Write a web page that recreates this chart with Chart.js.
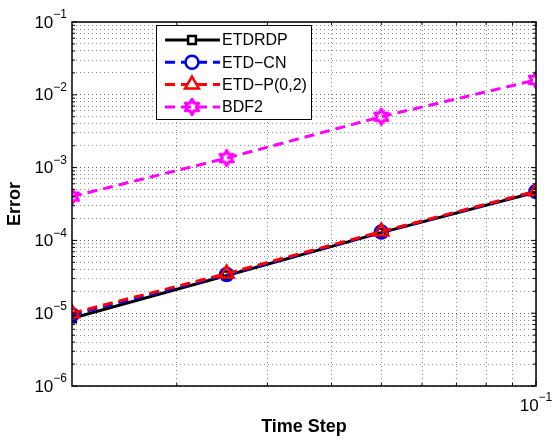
<!DOCTYPE html>
<html>
<head>
<meta charset="utf-8">
<script src="https://cdn.jsdelivr.net/npm/chart.js@4/dist/chart.umd.min.js"></script>
<style>
  html, body { margin: 0; padding: 0; background: #fff; }
  #wrap { width: 552px; height: 440px; }
</style>
</head>
<body>
<div id="wrap"><canvas id="chart" width="552" height="440"></canvas></div>
<script>
// data
const timeSteps = [0.0125, 0.025, 0.05, 0.1];
const etdrdpErr = [8.5e-6, 3.3e-5, 1.28e-4, 4.6e-4];
const etdcnErr = [9.5e-6, 3.4e-5, 1.3e-4, 4.7e-4];
const etdpErr = [1.0e-5, 3.5e-5, 1.32e-4, 4.75e-4];
const bdf2Err = [4.0e-4, 1.35e-3, 5.0e-3, 1.6e-2];
const seriesNames = ['ETDRDP', 'ETD\u2212CN', 'ETD\u2212P(0,2)', 'BDF2'];
const yExponents = [-6, -5, -4, -3, -2, -1];
const xExponents = [-1];

const FONT = '"Liberation Sans", Arial, Helvetica, sans-serif';

// hexagram marker (matlab 'h')
function hexagram(color, r, lw) {
    const c = document.createElement('canvas');
    const s = Math.ceil(2 * r + lw * 2 + 2);
    c.width = s; c.height = s;
    const g = c.getContext('2d');
    g.strokeStyle = color;
    g.lineWidth = lw;
    g.lineJoin = 'round';
    g.beginPath();
    for (let i = 0; i < 12; i++) {
        const a = -Math.PI / 2 + i * Math.PI / 6;
        const rr = i % 2 === 0 ? r : r / Math.sqrt(3);
        const px = s / 2 + rr * Math.cos(a), py = s / 2 + rr * Math.sin(a);
        if (i === 0) g.moveTo(px, py); else g.lineTo(px, py);
    }
    g.closePath();
    g.stroke();
    return c;
}
const hexMarker = hexagram('#ff00ff', 7.5, 3.2);

function pts(vals) {
    return timeSteps.map((t, i) => ({ x: t, y: vals[i] }));
}

const datasets = [
    { label: seriesNames[0], data: pts(etdrdpErr), borderColor: '#000', borderWidth: 3,
      pointStyle: 'rect', pointRadius: 5.5, pointBorderWidth: 2.5, pointBorderColor: '#000',
      pointBackgroundColor: 'rgba(0,0,0,0)', order: 3 },
    { label: seriesNames[1], data: pts(etdcnErr), borderColor: '#0000ff', borderWidth: 3, borderDash: [10, 6],
      pointStyle: 'circle', pointRadius: 6.5, pointBorderWidth: 2.5, pointBorderColor: '#0000ff',
      pointBackgroundColor: 'rgba(0,0,0,0)', order: 2 },
    { label: seriesNames[2], data: pts(etdpErr), borderColor: '#ff0000', borderWidth: 3, borderDash: [10, 6],
      pointStyle: 'triangle', pointRadius: 8, pointBorderWidth: 2.5, pointBorderColor: '#ff0000',
      pointBackgroundColor: 'rgba(0,0,0,0)', order: 1 },
    { label: seriesNames[3], data: pts(bdf2Err), borderColor: '#ff00ff', borderWidth: 3, borderDash: [10, 6],
      pointStyle: hexMarker, pointRadius: 8, order: 0 }
];

// all 1..9 x 10^n grid positions
function logTicks(lo, hi) {
    const out = [];
    for (let e = Math.floor(Math.log10(lo)); e <= Math.ceil(Math.log10(hi)); e++) {
        for (let m = 1; m < 10; m++) {
            const v = m * Math.pow(10, e);
            if (v >= lo * 0.9999 && v <= hi * 1.0001) out.push({ value: v, major: m === 1 });
        }
    }
    return out;
}

function powLabel(ctx, exp, x, y, align) {
    ctx.save();
    ctx.fillStyle = '#000';
    ctx.textBaseline = 'middle';
    ctx.font = '17px ' + FONT;
    const base = '10';
    const sup = '\u2212' + Math.abs(exp);
    const wb = ctx.measureText(base).width;
    ctx.font = '12px ' + FONT;
    const ws = ctx.measureText(sup).width;
    let x0 = align === 'right' ? x - wb - ws : x - (wb + ws) / 2;
    ctx.font = '17px ' + FONT;
    ctx.textAlign = 'left';
    ctx.fillText(base, x0, y + 1);
    ctx.font = '12px ' + FONT;
    ctx.fillText(sup, x0 + wb, y - 7);
    ctx.restore();
}

const matlabAxes = {
    id: 'matlabAxes',
    afterDraw(chart) {
        const ctx = chart.ctx;
        const a = chart.chartArea;
        const xs = chart.scales.x, ys = chart.scales.y;
        ctx.save();
        // box
        ctx.strokeStyle = '#000';
        ctx.lineWidth = 1.5;
        ctx.strokeRect(a.left, a.top, a.right - a.left, a.bottom - a.top);
        // inside tick marks
        ctx.lineWidth = 1;
        ys.ticks.forEach(t => {
            const py = ys.getPixelForValue(t.value);
            const len = t.major ? 5 : 3;
            ctx.beginPath();
            ctx.moveTo(a.left, py); ctx.lineTo(a.left + len, py);
            ctx.moveTo(a.right, py); ctx.lineTo(a.right - len, py);
            ctx.stroke();
        });
        xs.ticks.forEach(t => {
            const px = xs.getPixelForValue(t.value);
            const len = t.major ? 5 : 3;
            ctx.beginPath();
            ctx.moveTo(px, a.bottom); ctx.lineTo(px, a.bottom - len);
            ctx.moveTo(px, a.top); ctx.lineTo(px, a.top + len);
            ctx.stroke();
        });
        ctx.restore();

        // tick labels
        yExponents.forEach(e => powLabel(ctx, e, a.left - 5, ys.getPixelForValue(Math.pow(10, e)), 'right'));
        xExponents.forEach(e => powLabel(ctx, e, xs.getPixelForValue(Math.pow(10, e)), a.bottom + 19, 'center'));

        // legend
        const lx = 156, ly = 25, lw = 155, lh = 94;
        ctx.save();
        ctx.fillStyle = '#fff';
        ctx.fillRect(lx, ly, lw, lh);
        ctx.strokeStyle = '#000';
        ctx.lineWidth = 1;
        ctx.strokeRect(lx + 0.5, ly + 0.5, lw, lh);
        chart.data.datasets.forEach((ds, i) => {
            const ry = 40 + i * 22.3;
            ctx.save();
            ctx.strokeStyle = ds.borderColor;
            ctx.lineWidth = ds.borderWidth;
            ctx.setLineDash(ds.borderDash || []);
            ctx.beginPath();
            ctx.moveTo(165, ry); ctx.lineTo(220, ry);
            ctx.stroke();
            ctx.setLineDash([]);
            ctx.strokeStyle = ds.pointBorderColor || ds.borderColor;
            ctx.fillStyle = '#fff';
            ctx.lineWidth = ds.pointBorderWidth || 2.5;
            Chart.helpers.drawPoint(ctx, {
                pointStyle: ds.pointStyle, radius: ds.pointRadius, rotation: 0,
                borderWidth: ds.pointBorderWidth || 0
            }, 192, ry);
            ctx.restore();
            ctx.fillStyle = '#000';
            ctx.font = '16px ' + FONT;
            ctx.textBaseline = 'middle';
            ctx.textAlign = 'left';
            ctx.fillText(ds.label, 222, ry + 1);
        });
        ctx.restore();
    }
};

function gridColor(c) {
    return c.tick && c.tick.major ? 'rgba(0,0,0,0.6)' : 'rgba(0,0,0,0.45)';
}

new Chart(document.getElementById('chart'), {
    type: 'line',
    data: { datasets: datasets },
    options: {
        responsive: false,
        animation: false,
        devicePixelRatio: 1,
        layout: { padding: { top: 22, right: 16, left: 0, bottom: 0 } },
        plugins: { legend: { display: false }, tooltip: { enabled: false } },
        scales: {
            x: {
                type: 'logarithmic',
                min: 0.0125,
                max: 0.1,
                afterBuildTicks: s => { s.ticks = logTicks(0.02, 0.1); },
                afterFit: s => { s.height = 54; },
                ticks: { display: false },
                border: { display: false, dash: [1, 3] },
                grid: { color: gridColor, lineWidth: 1, drawTicks: false },
                title: { display: true, text: 'Time Step', font: { family: FONT, size: 18, weight: 'bold' },
                         color: '#000', padding: { top: 0, bottom: 2 } }
            },
            y: {
                type: 'logarithmic',
                min: 1e-6,
                max: 1e-1,
                afterBuildTicks: s => { s.ticks = logTicks(1e-6, 1e-1); },
                afterFit: s => { s.width = 72; },
                ticks: { display: false },
                border: { display: false, dash: [1, 3] },
                grid: { color: gridColor, lineWidth: 1, drawTicks: false },
                title: { display: true, text: 'Error', font: { family: FONT, size: 18, weight: 'bold' },
                         color: '#000', padding: { top: 4, bottom: 0 } }
            }
        }
    },
    plugins: [matlabAxes]
});
</script>
</body>
</html>
